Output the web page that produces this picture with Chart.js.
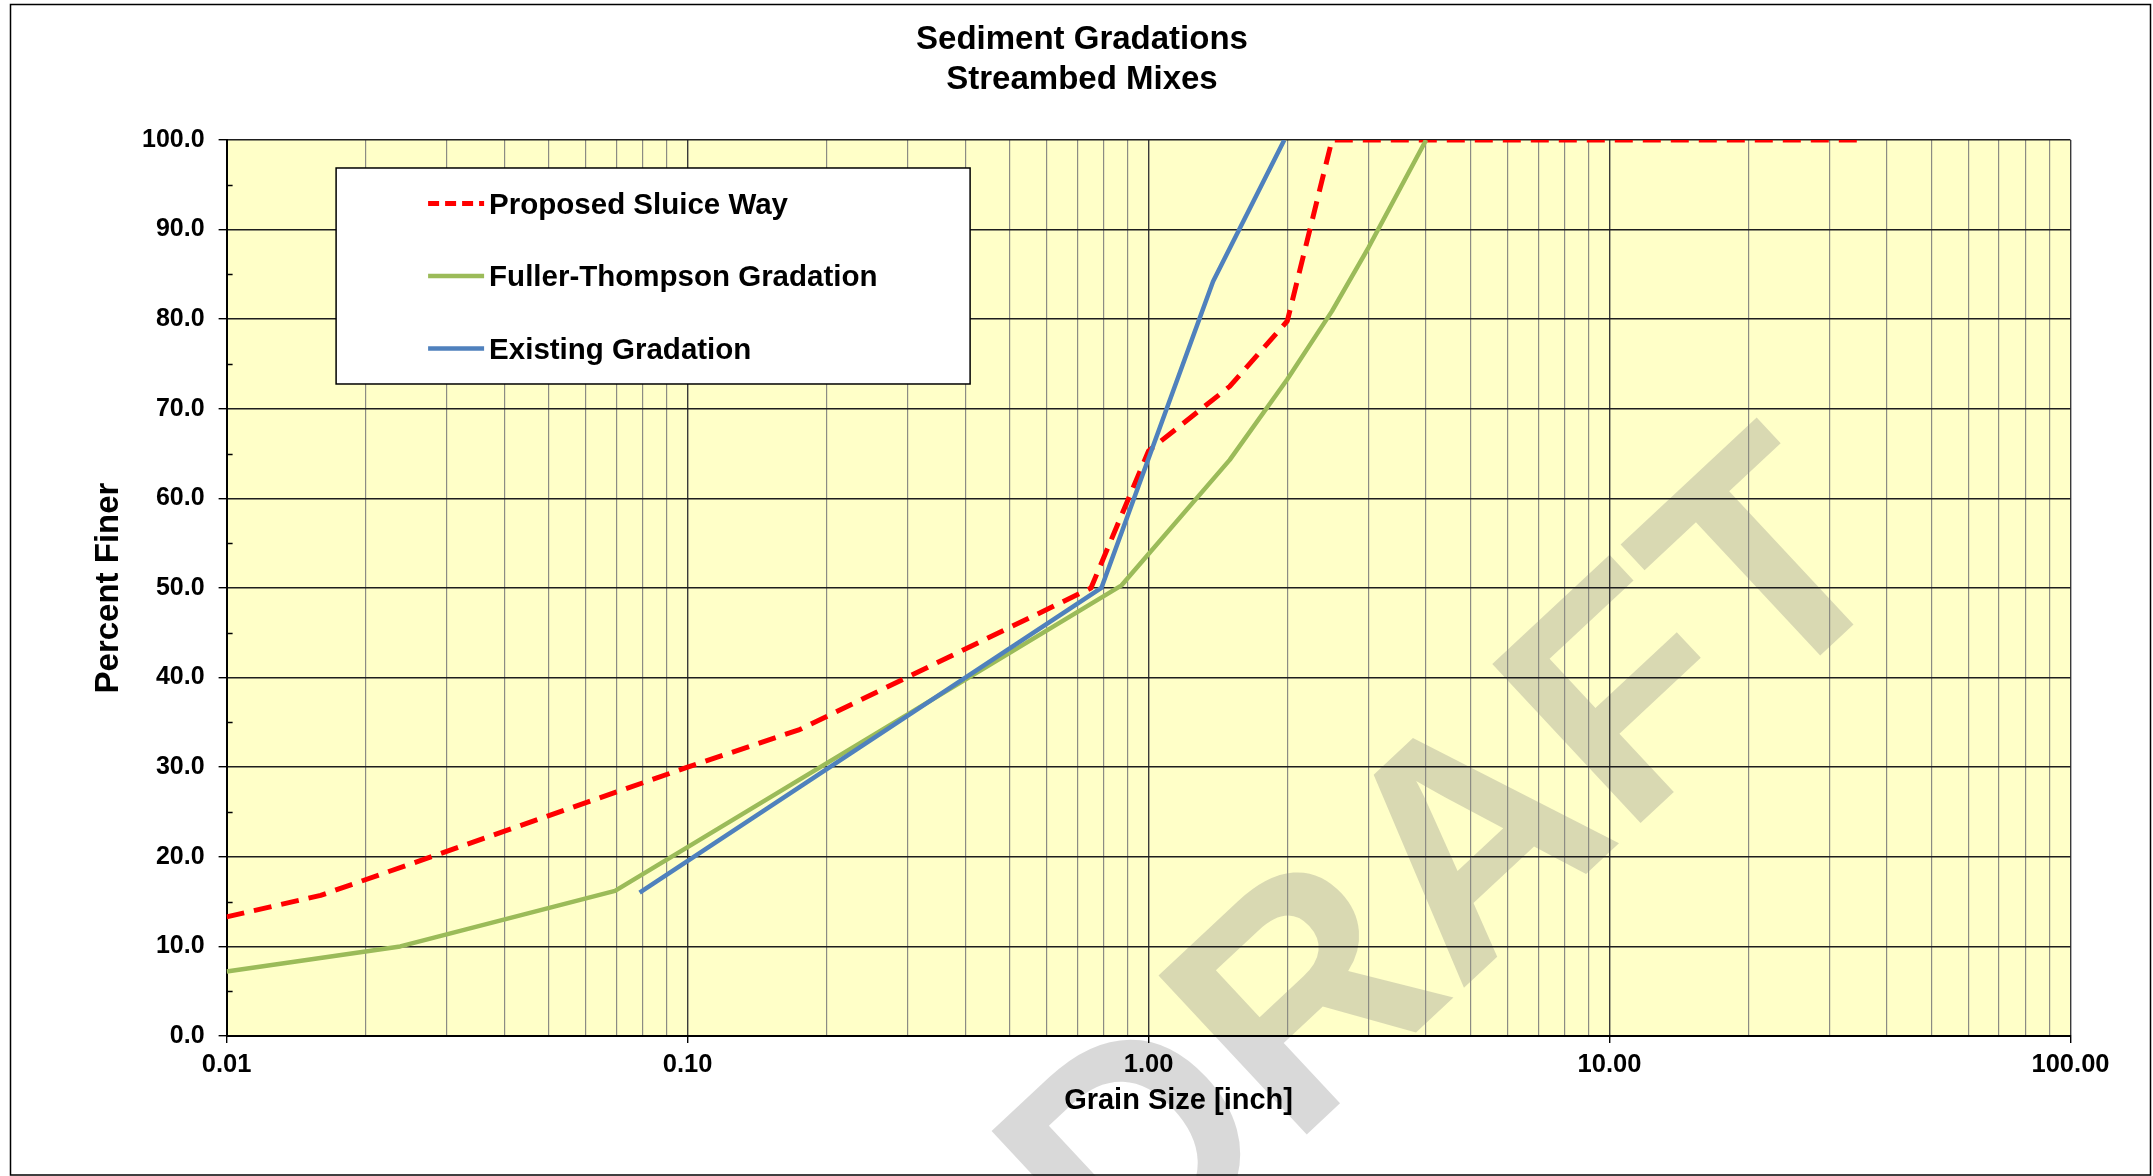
<!DOCTYPE html>
<html>
<head>
<meta charset="utf-8">
<script src="https://cdn.jsdelivr.net/npm/chart.js@4.4.1/dist/chart.umd.min.js"></script>
<style>
  html, body { margin: 0; padding: 0; background: #ffffff; }
  canvas { display: block; }
</style>
</head>
<body>
<canvas id="chart" width="2153" height="1176" style="width:2153px;height:1176px"></canvas>
<script>
// ---------------- data ----------------
const titleLines = ['Sediment Gradations', 'Streambed Mixes'];
const xAxisTitle = 'Grain Size [inch]';
const yAxisTitle = 'Percent Finer';
const watermarkText = 'DRAFT';

const seriesNames = ['Proposed Sluice Way', 'Fuller-Thompson Gradation', 'Existing Gradation'];

const sluiceSize  = [0.01, 0.016, 0.1, 0.175, 0.75, 1.0, 1.5, 2.0, 2.5, 36];
const sluiceFiner = [13.3, 15.7, 30.0, 34.2, 50.0, 65.3, 72.5, 79.8, 100, 100];

const fullerSize  = [0.01, 0.0238, 0.0696, 0.874, 1.5, 2.0, 2.5, 3.0, 4.0];
const fullerFiner = [7.2, 10.0, 16.2, 50.3, 64.3, 73.3, 80.9, 88.0, 100];

const existingSize  = [0.0787, 0.79, 1.38, 1.97];
const existingFiner = [16.0, 50.0, 84.2, 100];

const xDecades = [0.01, 0.1, 1, 10, 100];
const xMinorMultipliers = [2, 3, 4, 5, 6, 7, 8, 9];
const yTicks = [0, 10, 20, 30, 40, 50, 60, 70, 80, 90, 100];
const yMinorTicks = [5, 15, 25, 35, 45, 55, 65, 75, 85, 95];

// ---------------- helpers ----------------
const FONT = "'Liberation Sans', Arial, Helvetica, sans-serif";
const pts = (xs, ys) => xs.map((x, i) => ({ x: x, y: ys[i] }));
const isDecade = v => Math.abs(Math.log10(v) - Math.round(Math.log10(v))) < 1e-6;

const xTickValues = [];
xDecades.forEach((d, i) => {
  xTickValues.push(d);
  if (i < xDecades.length - 1) {
    xMinorMultipliers.forEach(m => xTickValues.push(parseFloat((m * d).toPrecision(8))));
  }
});

const COLORS = { sluice: '#FF0000', fuller: '#9BBB59', existing: '#4F81BD' };

const datasets = [
  { label: seriesNames[0], data: pts(sluiceSize, sluiceFiner), borderColor: COLORS.sluice,
    borderWidth: 5, borderDash: [18, 10], order: 3 },
  { label: seriesNames[1], data: pts(fullerSize, fullerFiner), borderColor: COLORS.fuller,
    borderWidth: 4.5, order: 2 },
  { label: seriesNames[2], data: pts(existingSize, existingFiner), borderColor: COLORS.existing,
    borderWidth: 4.5, order: 1 }
].map(d => Object.assign({
  backgroundColor: d.borderColor, pointRadius: 0, pointHoverRadius: 0, tension: 0,
  fill: false, borderJoinStyle: 'round', borderCapStyle: 'butt'
}, d));

// ---------------- plugins ----------------
const decorPlugin = {
  id: 'decor',
  beforeDraw(chart) {
    const { ctx, chartArea: a, width, height } = chart;
    ctx.save();
    ctx.fillStyle = '#ffffff';
    ctx.fillRect(0, 0, width, height);
    ctx.fillStyle = '#FFFFC8';
    ctx.fillRect(a.left, a.top, a.right - a.left, a.bottom - a.top);
    // watermark
    const cx = a.left + (a.right - a.left) * 0.667;
    const cy = a.top + (a.bottom - a.top) * 0.821;
    ctx.translate(cx, cy);
    ctx.rotate(-43 * Math.PI / 180);
    ctx.font = `bold 316px ${FONT}`;
    ctx.fillStyle = 'rgba(128,128,128,0.3)';
    ctx.textAlign = 'center';
    ctx.textBaseline = 'middle';
    ctx.fillText(watermarkText, 0, 0);
    ctx.restore();
  },
  afterDraw(chart) {
    const { ctx, chartArea: a, width, height } = chart;
    const ys = chart.scales.y;
    const xs = chart.scales.x;
    ctx.save();
    // minor y ticks (inside)
    ctx.strokeStyle = '#000';
    ctx.lineWidth = 1.5;
    yMinorTicks.forEach(v => {
      const py = Math.round(ys.getPixelForValue(v)) + 0.5;
      ctx.beginPath();
      ctx.moveTo(a.left, py);
      ctx.lineTo(a.left + 6, py);
      ctx.stroke();
    });
    // x axis title (placed slightly right of the plot centre, as in the source)
    ctx.fillStyle = '#000';
    ctx.font = `bold 29px ${FONT}`;
    ctx.textAlign = 'center';
    ctx.textBaseline = 'middle';
    ctx.fillText(xAxisTitle, (a.left + a.right) / 2 + 30, xs.bottom - 75);
    // legend box
    const bx = a.left + 109.5, by = a.top + 28, bw = 634, bh = 216;
    ctx.fillStyle = '#ffffff';
    ctx.fillRect(bx, by, bw, bh);
    ctx.strokeStyle = '#000';
    ctx.lineWidth = 1.5;
    ctx.strokeRect(bx, by, bw, bh);
    ctx.font = `bold 29.5px ${FONT}`;
    ctx.textAlign = 'left';
    ctx.textBaseline = 'alphabetic';
    chart.data.datasets.forEach((ds, i) => {
      const rowY = by + 35.5 + i * 72.5;
      ctx.save();
      ctx.strokeStyle = ds.borderColor;
      ctx.lineWidth = ds.borderWidth;
      ctx.setLineDash(ds.borderDash ? [11, 6] : []);
      ctx.beginPath();
      ctx.moveTo(bx + 92, rowY);
      ctx.lineTo(bx + 148, rowY);
      ctx.stroke();
      ctx.restore();
      ctx.fillStyle = '#000';
      ctx.fillText(ds.label, bx + 153, rowY + 10.5);
    });
    // outer frame
    ctx.strokeStyle = '#000';
    ctx.lineWidth = 1.5;
    ctx.strokeRect(10.5, 4.5, width - 13, height - 5.5);
    ctx.restore();
  }
};

// ---------------- chart ----------------
const LEFT_PAD = 93.5;
new Chart(document.getElementById('chart'), {
  type: 'line',
  data: { datasets: datasets },
  plugins: [decorPlugin],
  options: {
    responsive: false,
    animation: false,
    devicePixelRatio: 1,
    layout: { padding: { left: LEFT_PAD, right: 82.5, top: 0, bottom: 0 } },
    plugins: {
      legend: { display: false },
      tooltip: { enabled: false },
      title: {
        display: true,
        text: titleLines,
        color: '#000',
        font: { family: FONT, size: 33, weight: 'bold', lineHeight: 1.212 },
        padding: { top: 20, bottom: 40 }
      }
    },
    scales: {
      x: {
        type: 'logarithmic',
        min: xDecades[0],
        max: xDecades[xDecades.length - 1],
        afterFit(s) { s.height = 140; },
        afterBuildTicks(s) { s.ticks = xTickValues.map(v => ({ value: v, major: isDecade(v) })); },
        ticks: {
          autoSkip: false,
          maxRotation: 0,
          minRotation: 0,
          padding: 7,
          color: '#000',
          font: { family: FONT, size: 25.5, weight: 'bold' },
          callback: v => (isDecade(v) ? Number(v).toFixed(2) : '')
        },
        grid: {
          color: c => (c.tick && isDecade(c.tick.value) ? '#3a3a3a' : '#8c8c84'),
          lineWidth: c => (c.tick && isDecade(c.tick.value) ? 1.4 : 1.2),
          tickColor: c => (c.tick && isDecade(c.tick.value) ? '#000' : 'rgba(0,0,0,0)'),
          tickLength: 7,
          drawTicks: true
        },
        border: { display: true, color: '#000', width: 2 },
        title: { display: false }
      },
      y: {
        type: 'linear',
        min: yTicks[0],
        max: yTicks[yTicks.length - 1],
        afterFit(s) { s.width = 226.6 - LEFT_PAD; },
        afterBuildTicks(s) { s.ticks = yTicks.map(v => ({ value: v })); },
        ticks: {
          padding: 14,
          color: '#000',
          font: { family: FONT, size: 25, weight: 'bold' },
          callback: v => Number(v).toFixed(1)
        },
        grid: {
          color: '#1e1e1e',
          lineWidth: 1.4,
          tickColor: '#000',
          tickLength: 8,
          drawTicks: true
        },
        border: { display: true, color: '#000', width: 2 },
        title: {
          display: true,
          text: yAxisTitle,
          color: '#000',
          font: { family: FONT, size: 33, weight: 'bold', lineHeight: 0.91 },
          padding: { top: 0, bottom: 0 }
        }
      }
    }
  }
});
</script>
</body>
</html>
